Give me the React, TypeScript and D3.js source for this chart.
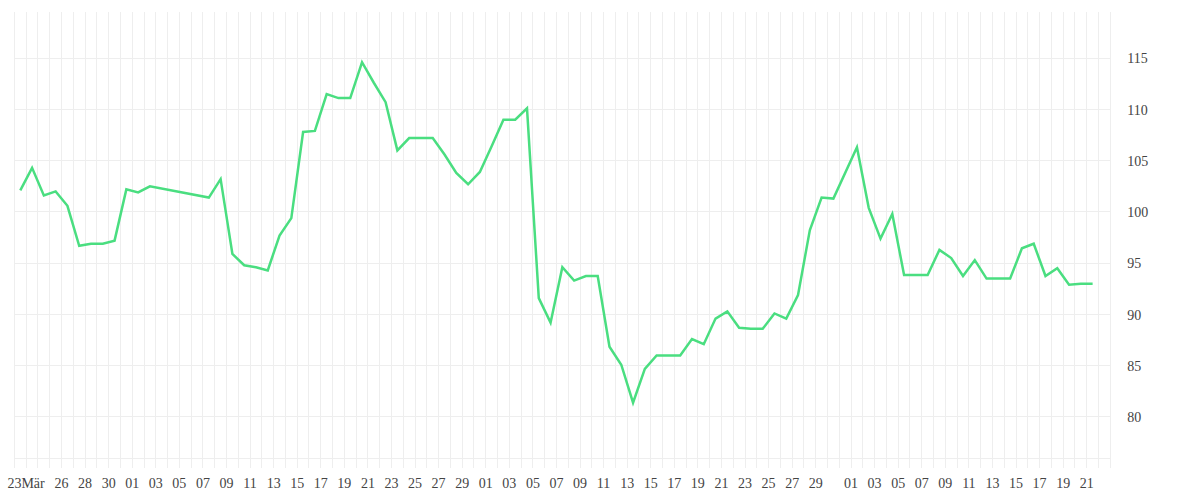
import { useEffect, useRef } from 'react';
import * as d3 from 'd3';

// daily values (2021), missing days are simply absent
const dates = [
    '2021-03-22', '2021-03-23', '2021-03-24', '2021-03-25', '2021-03-26', '2021-03-27', '2021-03-28',
    '2021-03-29', '2021-03-30', '2021-03-31', '2021-04-01', '2021-04-02',
    '2021-04-07', '2021-04-08', '2021-04-09', '2021-04-10', '2021-04-11', '2021-04-12', '2021-04-13',
    '2021-04-14', '2021-04-15', '2021-04-16', '2021-04-17', '2021-04-18', '2021-04-19', '2021-04-20',
    '2021-04-21', '2021-04-22', '2021-04-23', '2021-04-24', '2021-04-25', '2021-04-26', '2021-04-27',
    '2021-04-28', '2021-04-29', '2021-04-30', '2021-05-01', '2021-05-02', '2021-05-03', '2021-05-04',
    '2021-05-05', '2021-05-06', '2021-05-07', '2021-05-08', '2021-05-09', '2021-05-10', '2021-05-11',
    '2021-05-12', '2021-05-13', '2021-05-14', '2021-05-15', '2021-05-16', '2021-05-17', '2021-05-18',
    '2021-05-19', '2021-05-20', '2021-05-21', '2021-05-22', '2021-05-23', '2021-05-24', '2021-05-25',
    '2021-05-26', '2021-05-27', '2021-05-28', '2021-05-29', '2021-05-30',
    '2021-06-01', '2021-06-02', '2021-06-03', '2021-06-04', '2021-06-05', '2021-06-06', '2021-06-07',
    '2021-06-08', '2021-06-09', '2021-06-10', '2021-06-11', '2021-06-12', '2021-06-13', '2021-06-14',
    '2021-06-15', '2021-06-16', '2021-06-17', '2021-06-18', '2021-06-19', '2021-06-20', '2021-06-21',
];

const values = [
    102.1, 104.3, 101.6, 102.0, 100.6, 96.7, 96.9,
    96.9, 97.2, 102.2, 101.9, 102.5,
    101.4, 103.2, 95.9, 94.8, 94.6, 94.3, 97.7,
    99.4, 107.8, 107.9, 111.5, 111.1, 111.1, 114.6,
    112.6, 110.7, 106.0, 107.2, 107.2, 107.2, 105.6,
    103.8, 102.7, 103.9, 106.4, 109.0, 109.0, 110.1,
    91.6, 89.2, 94.6, 93.3, 93.75, 93.75, 86.85,
    85.1, 81.4, 84.7, 86.0, 86.0, 86.0, 87.6,
    87.1, 89.6, 90.3, 88.7, 88.6, 88.6, 90.1,
    89.6, 91.9, 98.2, 101.4, 101.3,
    106.3, 100.4, 97.4, 99.8, 93.85, 93.85, 93.85,
    96.3, 95.5, 93.75, 95.3, 93.5, 93.5, 93.5,
    96.45, 96.9, 93.75, 94.5, 92.9, 93.0, 93.0,
];

const tickDates = [
    '2021-03-22T00:00', '2021-03-23T14:00', '2021-03-26T00:00', '2021-03-28T00:00', '2021-03-30T00:00',
    '2021-04-01T00:00', '2021-04-03T00:00', '2021-04-05T00:00', '2021-04-07T00:00', '2021-04-09T00:00',
    '2021-04-11T00:00', '2021-04-13T00:00', '2021-04-15T00:00', '2021-04-17T00:00', '2021-04-19T00:00',
    '2021-04-21T00:00', '2021-04-23T00:00', '2021-04-25T00:00', '2021-04-27T00:00', '2021-04-29T00:00',
    '2021-05-01T00:00', '2021-05-03T00:00', '2021-05-05T00:00', '2021-05-07T00:00', '2021-05-09T00:00',
    '2021-05-11T00:00', '2021-05-13T00:00', '2021-05-15T00:00', '2021-05-17T00:00', '2021-05-19T00:00',
    '2021-05-21T00:00', '2021-05-23T00:00', '2021-05-25T00:00', '2021-05-27T00:00', '2021-05-29T00:00',
    '2021-06-01T00:00', '2021-06-03T00:00', '2021-06-05T00:00', '2021-06-07T00:00', '2021-06-09T00:00',
    '2021-06-11T00:00', '2021-06-13T00:00', '2021-06-15T00:00', '2021-06-17T00:00', '2021-06-19T00:00',
    '2021-06-21T00:00',
];

const tickLabels = [
    '23', 'Mär', '26', '28', '30',
    '01', '03', '05', '07', '09', '11', '13', '15', '17', '19', '21', '23', '25', '27', '29',
    '01', '03', '05', '07', '09', '11', '13', '15', '17', '19', '21', '23', '25', '27', '29',
    '01', '03', '05', '07', '09', '11', '13', '15', '17', '19', '21',
];

const yTicks = [80, 85, 90, 95, 100, 105, 110, 115];

const parseDay = d3.utcParse('%Y-%m-%d');
const parseTick = d3.utcParse('%Y-%m-%dT%H:%M');

export default function App() {
    const svgRef = useRef<SVGSVGElement>(null);

    useEffect(() => {
        if (!svgRef.current) return;
        const svg = d3.select(svgRef.current);
        svg.selectAll('*').remove();

        const width = 1200;
        const height = 500;
        const left = 14.4;
        const right = 1110.3;
        const top = 12;
        const bottom = 458;

        const data = dates.map((d, i) => ({ date: d3.utcHour.offset(parseDay(d)!, 12), value: values[i] }));

        const x = d3.scaleUtc()
            .domain([parseDay('2021-03-22')!, parseDay('2021-06-23')!])
            .range([left, right]);

        const y = d3.scaleLinear()
            .domain([76, 119.5])
            .range([bottom, top]);

        const gridColor = '#eeeeee';

        // vertical day grid, runs a bit past the axis like tick marks
        svg.append('g')
            .selectAll('line')
            .data(d3.utcDay.range(x.domain()[0], d3.utcDay.offset(x.domain()[1], 1)))
            .enter()
            .append('line')
            .attr('x1', d => x(d))
            .attr('x2', d => x(d))
            .attr('y1', top)
            .attr('y2', bottom + 10)
            .attr('stroke', gridColor)
            .attr('stroke-width', 1)
            .attr('shape-rendering', 'crispEdges');

        // horizontal grid
        svg.append('g')
            .selectAll('line')
            .data(yTicks)
            .enter()
            .append('line')
            .attr('x1', left)
            .attr('x2', right)
            .attr('y1', d => y(d))
            .attr('y2', d => y(d))
            .attr('stroke', gridColor)
            .attr('stroke-width', 1)
            .attr('shape-rendering', 'crispEdges');

        // base line
        svg.append('line')
            .attr('x1', left)
            .attr('x2', right)
            .attr('y1', bottom)
            .attr('y2', bottom)
            .attr('stroke', gridColor)
            .attr('shape-rendering', 'crispEdges');

        // y labels on the right
        svg.append('g')
            .selectAll('text')
            .data(yTicks)
            .enter()
            .append('text')
            .attr('x', right + 17)
            .attr('y', d => y(d) + 2)
            .attr('dominant-baseline', 'middle')
            .attr('font-family', 'Liberation Serif, serif')
            .attr('font-size', 14)
            .attr('fill', '#444')
            .text(d => String(d));

        // x labels
        svg.append('g')
            .selectAll('text')
            .data(tickDates)
            .enter()
            .append('text')
            .attr('x', d => x(parseTick(d)!))
            .attr('y', 488)
            .attr('text-anchor', 'middle')
            .attr('font-family', 'Liberation Serif, serif')
            .attr('font-size', 14)
            .attr('fill', '#444')
            .text((d, i) => tickLabels[i]);

        const line = d3.line<{ date: Date; value: number }>()
            .x(d => x(d.date))
            .y(d => y(d.value));

        svg.append('path')
            .datum(data)
            .attr('fill', 'none')
            .attr('stroke', '#4ade80')
            .attr('stroke-width', 2.5)
            .attr('stroke-linejoin', 'miter')
            .attr('d', line);

        svg.attr('width', width).attr('height', height);
    }, []);

    return (
        <div style={{ position: 'absolute', left: 0, top: 0, width: 1200, height: 500, background: '#fff' }}>
            <svg ref={svgRef} width={1200} height={500} style={{ display: 'block' }} />
        </div>
    );
}
